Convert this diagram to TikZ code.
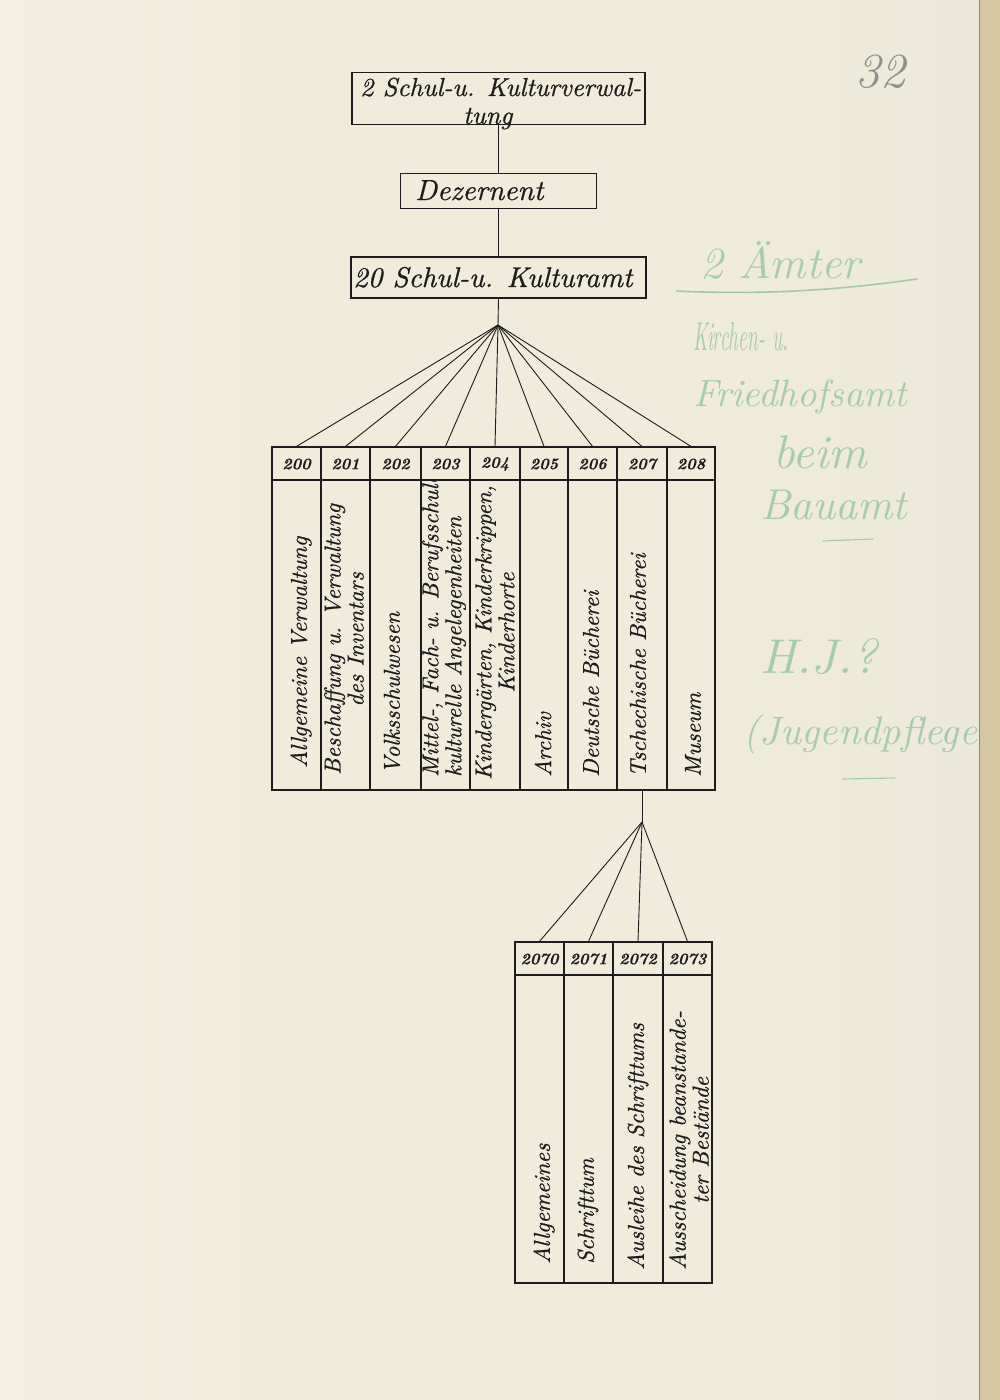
\documentclass[tikz,border=0pt]{standalone}
\usepackage{fontspec}
\newfontfamily\hand{lmroman10-italic.otf}[FakeBold=0.7]
\newfontfamily\handnum{lmroman10-bolditalic.otf}[FakeBold=0.5]
\newfontfamily\pencil{lmroman10-italic.otf}
\definecolor{paper}{HTML}{F0EBDA}
\definecolor{paperL}{HTML}{F2EEE0}
\definecolor{paperR}{HTML}{EDE9DA}
\definecolor{edge}{HTML}{D6C6A2}
\definecolor{edgeline}{HTML}{8C8676}
\definecolor{inkc}{HTML}{1C1C1C}
\definecolor{pencilgreen}{HTML}{8FC29B}
\definecolor{pencilgray}{HTML}{858585}
\begin{document}
\begin{tikzpicture}[x=1pt,y=-1pt,
  topbox/.style={draw=inkc, line width=1.4pt, inner sep=0pt, minimum width=#1},
  cellbox/.style={draw=inkc, line width=1.2pt, inner sep=0pt, minimum width=#1},
  conn/.style={draw=inkc, line width=0.9pt},
  boxtext/.style={text=inkc, inner sep=0pt, font=\hand\fontsize{26}{28}\selectfont},
  numtext/.style={text=inkc, inner sep=0pt, font=\handnum\fontsize{16}{18}\selectfont},
  coltext/.style={text=inkc, inner sep=0pt, rotate=90, anchor=west, align=#1,
     font=\hand\fontsize{23}{23}\selectfont},
  coltext/.default=left,
  greennote/.style={text=pencilgreen, inner sep=0pt, anchor=west, opacity=0.75},
  greenline/.style={draw=pencilgreen, line width=1.6pt, opacity=0.8, line cap=round}
]
% paper
\useasboundingbox (0,0) rectangle (1000,1400);
\fill[paper] (0,0) rectangle (1000,1400);
\shade[left color=paperL, right color=paper] (0,0) rectangle (320,1400);
\shade[left color=paper, right color=paperR] (700,0) rectangle (979,1400);
\fill[edge] (979,0) rectangle (1000,1400);
\draw[edgeline, line width=0.8pt] (979,0) -- (979,1400);

% top boxes
\node[topbox=293pt, minimum height=52pt] (b1) at (498.5,98.5) {};
\node[boxtext, anchor=base west] (b1t1) at (360,96) {2 Schul-u. Kulturverwal-};
\node[boxtext, anchor=base west] (b1t2) at (463,124) {tung};
\node[topbox=196pt, minimum height=35pt] (b2) at (498.5,191) {};
\node[boxtext, anchor=base west, font=\hand\fontsize{29}{31}\selectfont] (b2t) at (415,200) {Dezernent};
\node[topbox=295pt, minimum height=41pt] (b3) at (498.5,277.5) {};
\node[boxtext, anchor=base west, font=\hand\fontsize{28.5}{31}\selectfont] (b3t) at (353,287) {20 Schul-u. Kulturamt};

\draw[conn] (b1.south) -- (b2.north);
\draw[conn] (b2.south) -- (b3.north);
\coordinate (apex) at (498,325);
\draw[conn] (b3.south) -- (apex);

% upper table
\foreach \n/\l/\r in {200/272/321, 201/321/370, 202/370/421, 203/421/470, 204/470/520,
                      205/520/568, 206/568/617, 207/617/667, 208/667/715}{
  \pgfmathsetmacro{\w}{\r-\l}
  \pgfmathsetmacro{\c}{(\r+\l)/2}
  \node[cellbox=\w pt, minimum height=33pt] (h\n) at (\c,463.5) {};
  \node[cellbox=\w pt, minimum height=310pt] (c\n) at (\c,635) {};
  \node[numtext] (n\n) at (\c,464) {\n};
  \draw[conn] (apex) -- (h\n.north);
}

\begin{scope}
\clip (272,481) rectangle (715,789);
\node[coltext] (t200) at (301,768) {Allgemeine Verwaltung};
\node[coltext=center] (t201) at (344,775) {Beschaffung u. Verwaltung\\des Inventars};
\node[coltext] (t202) at (392,774) {Volksschulwesen};
\node[coltext] (t203) at (444,777) {Mittel-, Fach- u. Berufsschulen\\kulturelle Angelegenheiten};
\node[coltext=center] (t204) at (495,780) {Kindergärten, Kinderkrippen,\\Kinderhorte};
\node[coltext] (t205) at (543,777) {Archiv};
\node[coltext] (t206) at (591,777) {Deutsche Bücherei};
\node[coltext] (t207) at (638,777) {Tschechische Bücherei};
\node[coltext] (t208) at (693,777) {Museum};
\end{scope}

% lower table
\coordinate (apex2) at (642,822);
\draw[conn] (c207.south) -- (apex2);
\foreach \n/\l/\r in {2070/515/564, 2071/564/613, 2072/613/663, 2073/663/712}{
  \pgfmathsetmacro{\w}{\r-\l}
  \pgfmathsetmacro{\c}{(\r+\l)/2}
  \node[cellbox=\w pt, minimum height=33pt] (h\n) at (\c,958.5) {};
  \node[cellbox=\w pt, minimum height=308pt] (c\n) at (\c,1129) {};
  \node[numtext] (n\n) at (\c,959) {\n};
  \draw[conn] (apex2) -- (h\n.north);
}
\node[coltext] (u2070) at (544,1264) {Allgemeines};
\node[coltext] (u2071) at (588,1264) {Schrifttum};
\node[coltext] (u2072) at (638,1270) {Ausleihe des Schrifttums};
\node[coltext=center] (u2073) at (689,1270) {Ausscheidung beanstande-\\ter Bestände};

% pencil notes
\node[text=pencilgray, inner sep=0pt, anchor=west, opacity=0.9] (pnum) at (855,72)
   {\resizebox{50pt}{!}{\pencil 32}};
\node[greennote] (g1) at (700,260) {\resizebox{160pt}{!}{\pencil 2 Ämter}};
\coordinate (gl1a) at (677,291);
\coordinate (gl1b) at (917,279);
\draw[greenline] (gl1a) .. controls (780,296) and (860,287) .. (gl1b);
\node[greennote] (g2) at (693,337) {\resizebox{95pt}{28pt}{\pencil Kirchen- u.}};
\node[greennote] (g3) at (693,397) {\resizebox{214pt}{!}{\pencil Friedhofsamt}};
\node[greennote] (g4) at (773,452) {\resizebox{94pt}{!}{\pencil beim}};
\node[greennote] (g5) at (760,505) {\resizebox{147pt}{!}{\pencil Bauamt}};
\coordinate (gl2a) at (823,541);
\coordinate (gl2b) at (873,539);
\draw[greenline, line width=1.1pt] (gl2a) -- (gl2b);
\node[greennote] (g6) at (760,657) {\resizebox{117pt}{!}{\pencil H.J.?}};
\node[greennote] (g7) at (743,735) {\resizebox{234pt}{!}{\pencil (Jugendpflege}};
\coordinate (gl3a) at (843,779);
\coordinate (gl3b) at (895,778);
\draw[greenline, line width=1.1pt] (gl3a) -- (gl3b);
\end{tikzpicture}
\end{document}
